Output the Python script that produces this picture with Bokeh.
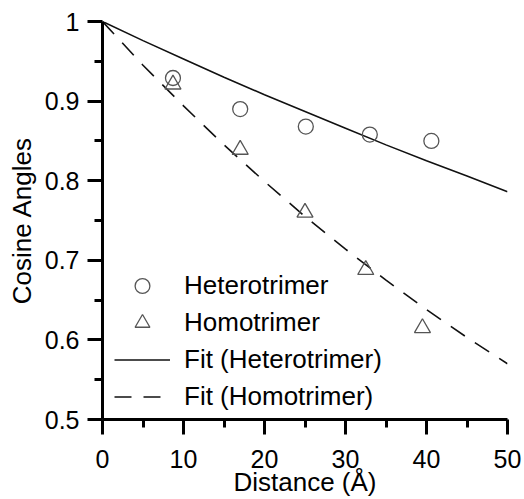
from bokeh.plotting import figure
from bokeh.models import (Range1d, Legend, LegendItem, FixedTicker,
                          CustomJSTickFormatter)
from bokeh.embed import file_html
from bokeh.resources import INLINE

# ---- data ----
het_x = [8.7, 17.0, 25.1, 33.0, 40.6]
het_y = [0.929, 0.890, 0.868, 0.858, 0.850]
hom_x = [8.7, 17.0, 25.0, 32.5, 39.5]
hom_y = [0.921, 0.839, 0.760, 0.688, 0.615]

fit_x = [0, 5, 10, 15, 20, 25, 30, 35, 40, 45, 50]
fit_het_y = [1.0, 0.976, 0.953, 0.930, 0.908, 0.887, 0.866, 0.845, 0.825, 0.806, 0.786]
fit_hom_y = [1.0, 0.945, 0.894, 0.845, 0.799, 0.755, 0.714, 0.675, 0.638, 0.603, 0.570]

x_ticks = [0, 10, 20, 30, 40, 50]
x_tick_labels = ["0", "10", "20", "30", "40", "50"]
x_minor = [5, 15, 25, 35, 45]
y_ticks = [0.5, 0.6, 0.7, 0.8, 0.9, 1.0]
y_tick_labels = ["0.5", "0.6", "0.7", "0.8", "0.9", "1"]
y_minor = [0.55, 0.65, 0.75, 0.85, 0.95]

legend_labels = ["Heterotrimer", "Homotrimer", "Fit (Heterotrimer)", "Fit (Homotrimer)"]

FONT = "Liberation Sans"
MARK = "#555555"

p = figure(width=524, height=499, output_backend="svg", toolbar_location=None,
           x_range=Range1d(0, 50), y_range=Range1d(0.5, 1.0),
           min_border_left=102, min_border_right=17, min_border_top=21,
           min_border_bottom=78)
p.outline_line_color = None
p.grid.visible = False
p.background_fill_color = "white"
p.border_fill_color = "white"

r_fh = p.line(fit_x, fit_het_y, line_color="#111111", line_width=1.6)
r_fm = p.line(fit_x, fit_hom_y, line_color="#111111", line_width=1.6, line_dash="17 12")
r_h = p.scatter(het_x, het_y, marker="circle", size=15, fill_color=None,
                line_color=MARK, line_width=1.3)
r_m = p.scatter(hom_x, hom_y, marker="triangle", size=16, fill_color=None,
                line_color=MARK, line_width=1.3)


def fmt(ticks, labels):
    return CustomJSTickFormatter(args=dict(t=ticks, l=labels), code="""
        let b = 0;
        for (let i = 0; i < t.length; i++) {
            if (Math.abs(t[i] - tick) < Math.abs(t[b] - tick)) b = i;
        }
        return l[b];
    """)


p.xaxis.ticker = FixedTicker(ticks=x_ticks, minor_ticks=x_minor)
p.yaxis.ticker = FixedTicker(ticks=y_ticks, minor_ticks=y_minor)
p.xaxis.formatter = fmt(x_ticks, x_tick_labels)
p.yaxis.formatter = fmt(y_ticks, y_tick_labels)

for ax in (p.xaxis, p.yaxis):
    ax.axis_line_width = 3
    ax.axis_line_color = "black"
    ax.major_tick_line_width = 3
    ax.minor_tick_line_width = 3
    ax.major_tick_line_color = "black"
    ax.minor_tick_line_color = "black"
    ax.major_tick_in = 0
    ax.minor_tick_in = 0
    ax.major_tick_out = 15
    ax.minor_tick_out = 8
    ax.major_label_text_font = FONT
    ax.major_label_text_font_size = "25px"
    ax.major_label_text_color = "black"
    ax.axis_label_text_font = FONT
    ax.axis_label_text_font_size = "26px"
    ax.axis_label_text_font_style = "normal"
    ax.axis_label_text_color = "black"

p.xaxis.axis_label = "Distance (Å)"
p.yaxis.axis_label = "Cosine Angles"
p.xaxis.major_label_standoff = 15
p.xaxis.axis_label_standoff = -4
p.yaxis.major_label_standoff = 8
p.yaxis.axis_label_standoff = 5

legend = Legend(items=[
    LegendItem(label=legend_labels[0], renderers=[r_h]),
    LegendItem(label=legend_labels[1], renderers=[r_m]),
    LegendItem(label=legend_labels[2], renderers=[r_fh]),
    LegendItem(label=legend_labels[3], renderers=[r_fm]),
], location=(12, 4), padding=0, margin=0, spacing=0,
    glyph_width=56, glyph_height=37, label_height=37, label_standoff=14,
    label_text_font=FONT, label_text_font_size="26px", label_text_color="black",
    border_line_color=None, background_fill_alpha=0)
p.add_layout(legend)

open("out.html", "w").write(file_html(p, INLINE))
